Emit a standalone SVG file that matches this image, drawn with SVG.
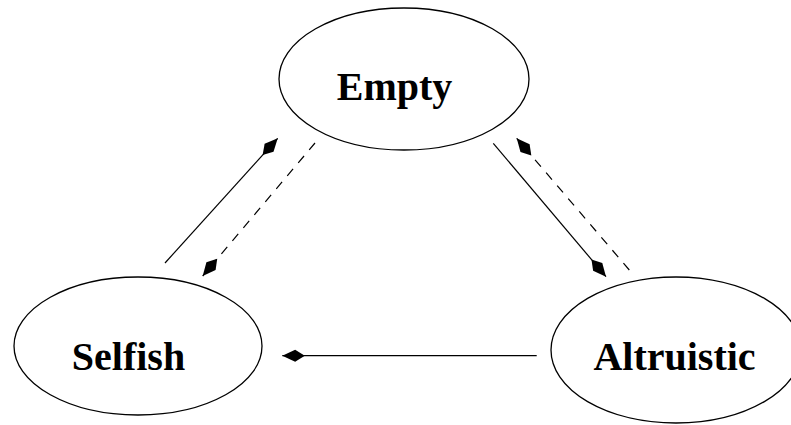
<svg xmlns="http://www.w3.org/2000/svg" width="791" height="425" viewBox="0 0 791 425">
  <style>
    .node { fill: #fff; stroke: #000; stroke-width: 1.3; }
    .label { font-family: "Liberation Serif", "Times New Roman", serif; font-weight: bold; font-size: 40px; fill: #000; }
    .edge { fill: none; stroke: #000; stroke-width: 1.2; }
    .dashed { stroke-dasharray: 9 8; }
  </style>
  <defs>
    <marker id="kite" markerUnits="userSpaceOnUse" orient="auto" refX="0" refY="0" markerWidth="30" markerHeight="30" viewBox="-24 -8 28 16" overflow="visible">
      <path d="M0,0 L-12,-5.6 L-21,0 L-12,5.6 Z" fill="#000"/>
    </marker>
  </defs>

  <g id="node-empty">
    <ellipse class="node" cx="404" cy="79" rx="125" ry="71"/>
    <text class="label" x="394.5" y="100" text-anchor="middle">Empty</text>
  </g>

  <g id="node-selfish">
    <ellipse class="node" cx="138" cy="346" rx="124" ry="69"/>
    <text class="label" x="128.5" y="370" text-anchor="middle">Selfish</text>
  </g>

  <g id="node-altruistic">
    <ellipse class="node" cx="676" cy="350" rx="125" ry="73"/>
    <text class="label" x="674.5" y="370" text-anchor="middle">Altruistic</text>
  </g>

  <g id="connectors">
    <line class="edge" x1="165" y1="263" x2="277.7" y2="138.3" marker-end="url(#kite)"/>
    <line class="edge dashed" x1="315" y1="143" x2="202.7" y2="276" marker-end="url(#kite)"/>
    <line class="edge" x1="493.3" y1="143.3" x2="606" y2="276.7" marker-end="url(#kite)"/>
    <line class="edge dashed" x1="629.3" y1="270" x2="516.7" y2="138.3" marker-end="url(#kite)"/>
    <line class="edge" x1="536.7" y1="355.7" x2="282.3" y2="355.7" marker-end="url(#kite)"/>
  </g>
</svg>
